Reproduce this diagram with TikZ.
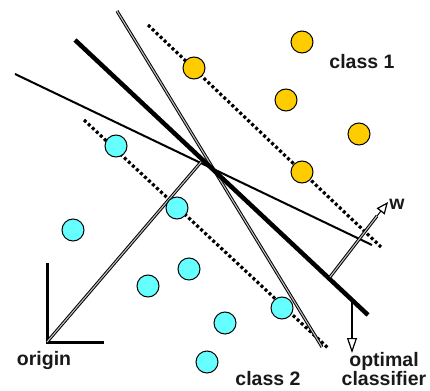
\documentclass[tikz,border=0pt]{standalone}
\usepackage{fontspec}
\setmainfont{Liberation Sans}
\usetikzlibrary{arrows.meta}
\definecolor{cyellow}{HTML}{FFCC00}
\definecolor{ccyan}{HTML}{66FFFF}
\begin{document}
\begin{tikzpicture}[x=1pt,y=-1pt,
  yel/.style={circle,draw=black,line width=1pt,fill=cyellow,minimum size=22pt,inner sep=0pt},
  cya/.style={circle,draw=black,line width=1pt,fill=ccyan,minimum size=22pt,inner sep=0pt},
  lbl/.style={font=\fontsize{19.5}{17}\selectfont\bfseries,inner sep=0pt,align=center,text=black!90},
  dbl/.style={draw=black,line width=1pt,double=gray!50,double distance=1.1pt},
  boldline/.style={line width=4.5pt},
  thinline/.style={line width=2pt},
  marginline/.style={line width=3.2pt,dash pattern=on 3pt off 2.5pt},
  warrow/.style={-{Triangle[open,fill=white,length=12pt,width=10pt,line width=1.2pt]}},
  carrow/.style={-{Triangle[open,fill=white,length=15pt,width=10pt,line width=1.2pt]}}
]
\useasboundingbox (0,0) rectangle (430,390);
% line end points
\coordinate (b1) at (75,40);   \coordinate (b2) at (368,315);
\coordinate (d1) at (117,11);  \coordinate (d2) at (322,347);
\coordinate (t1) at (15,74);   \coordinate (t2) at (372,245);
\coordinate (m1) at (148,25);  \coordinate (m2) at (381,247);
\coordinate (n1) at (84,120);  \coordinate (n2) at (329,349);
\coordinate (O) at (47,342);   \coordinate (P) at (201,162);
\coordinate (ax) at (47,263);  \coordinate (ay) at (104,342);
\coordinate (w0) at (330,277); \coordinate (w1) at (388,202);
\coordinate (w9) at (377,216);
\coordinate (c0) at (352,298); \coordinate (c1) at (352,353);

% margins
\draw[marginline] (m1) -- (m2);
\draw[marginline] (n1) -- (n2);
% classifiers
\draw[thinline] (t1) -- (t2);
\draw[dbl] (d1) -- (d2);
\draw[boldline] (b1) -- (b2);
% origin
\draw[line width=3pt] (ax) -- (O) -- (ay);
\draw[dbl] (O) -- (P);
% w vector
\draw[dbl] (w0) -- (w9);
\draw[warrow,line width=1pt] (w9) -- (w1);
% optimal classifier arrow
\draw[carrow,line width=2pt] (c0) -- (c1);

% class 1
\node[yel] (y1) at (194,68) {};
\node[yel] (y2) at (302,42) {};
\node[yel] (y3) at (286,100) {};
\node[yel] (y4) at (359,134) {};
\node[yel] (y5) at (302,172) {};
% class 2
\node[cya] (q1) at (116,146) {};
\node[cya] (q2) at (73,230) {};
\node[cya] (q3) at (177,208) {};
\node[cya] (q4) at (189,269) {};
\node[cya] (q5) at (148,286) {};
\node[cya] (q6) at (225,323) {};
\node[cya] (q7) at (282,308) {};
\node[cya] (q8) at (207,362) {};

% labels
\node[lbl] (l1) at (362,62) {class 1};
\node[lbl] (l2) at (268,379) {class 2};
\node[lbl] (lo) at (44,360) {origin};
\node[lbl] (lw) at (397,204) {w};
\node[lbl] (lc) at (384,369) {optimal\\classifier};
\end{tikzpicture}
\end{document}
